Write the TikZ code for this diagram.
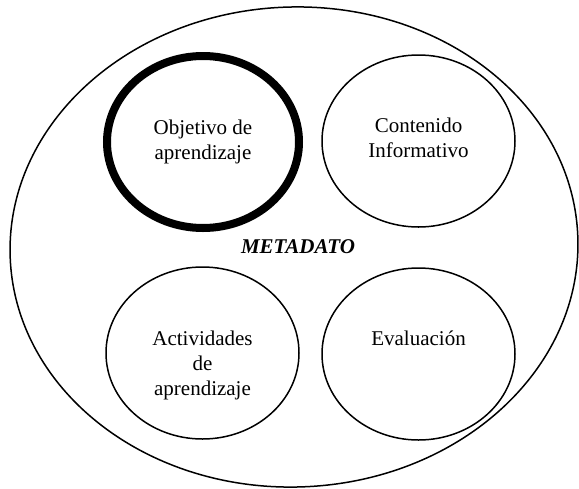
\documentclass[tikz,border=0pt]{standalone}
\usepackage{fontspec}
\setmainfont{Liberation Serif}
\usetikzlibrary{shapes.geometric}
\begin{document}
\begin{tikzpicture}[x=0.5pt,y=-0.5pt,
   oval/.style={draw, ellipse, line width=0.75pt, inner sep=0pt,
     minimum width=96.5pt, minimum height=86pt},
   txt/.style={align=center, inner sep=0pt, anchor=base,
     font=\fontsize{10.5}{12.5}\selectfont}]
   \useasboundingbox (0,0) rectangle (579,488);

   % Outer oval
   \node [oval, rotate=2, minimum width=284pt, minimum height=240pt] (meta) at (294,247) {};
   \node [txt] (metatxt) at (298,253) {\textbf{\textit{METADATO}}};

   % Inner ovals
   \node [oval, line width=4pt, minimum width=96pt] (obj) at (203,142) {};
   \node [oval] (cont) at (418.5,141) {};
   \node [oval] (act) at (202.5,353) {};
   \node [oval] (eval) at (418.5,354) {};

   % Labels (base is the last line)
   \node [txt] (objtxt) at (obj.center |- 0,159) {Objetivo de\\aprendizaje};
   \node [txt] (conttxt) at (cont.center |- 0,157) {Contenido\\Informativo};
   \node [txt] (acttxt) at (act.center |- 0,395) {Actividades\\de\\aprendizaje};
   \node [txt] (evaltxt) at (eval.center |- 0,345) {Evaluación};
\end{tikzpicture}
\end{document}
